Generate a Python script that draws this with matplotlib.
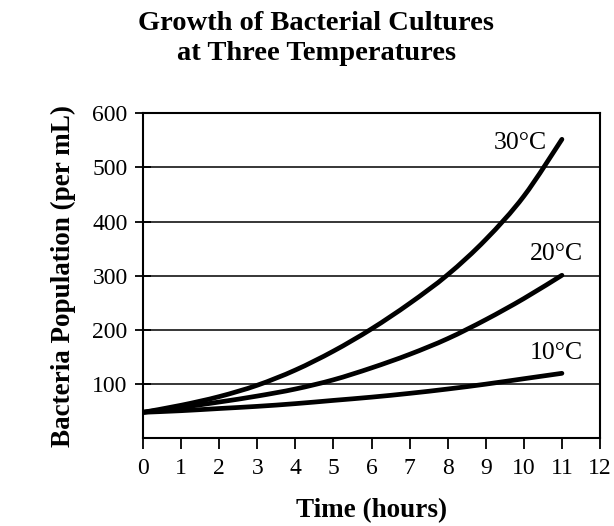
import matplotlib
matplotlib.use("Agg")
import matplotlib.pyplot as plt
from matplotlib.path import Path
from matplotlib.patches import PathPatch

plt.rcParams['font.family'] = ['Liberation Serif', 'DejaVu Serif']

# values
hours = [0, 1, 2, 3, 4, 5, 6, 7, 8, 9, 10, 11]
pop_30 = [48, 61, 77, 98, 126, 161, 202, 249, 302, 367, 447, 552]
pop_20 = [48, 57, 67, 78, 91, 108, 130, 155, 184, 219, 258, 301]
pop_10 = [48, 51, 55, 59, 64, 70, 76, 83, 91, 100, 110, 120]

series = [("30°C", pop_30, 10.6, 545),
          ("20°C", pop_20, 11.55, 340),
          ("10°C", pop_10, 11.55, 158)]


def smooth_path(xs, ys):
    # curve through the points, drawn as cubic bezier pieces (catmull-rom)
    pts = list(zip(xs, ys))
    n = len(pts)
    verts = [pts[0]]
    codes = [Path.MOVETO]
    for i in range(n - 1):
        p0 = pts[max(i - 1, 0)]
        p1 = pts[i]
        p2 = pts[i + 1]
        p3 = pts[min(i + 2, n - 1)]
        c1 = (p1[0] + (p2[0] - p0[0]) / 6, p1[1] + (p2[1] - p0[1]) / 6)
        c2 = (p2[0] - (p3[0] - p1[0]) / 6, p2[1] - (p3[1] - p1[1]) / 6)
        verts += [c1, c2, p2]
        codes += [Path.CURVE4] * 3
    return Path(verts, codes)


fig = plt.figure(figsize=(6.14, 5.26), dpi=100)
ax = fig.add_axes([0.2329, 0.1667, 0.7443, 0.6179])

ax.set_xlim(0, 12)
ax.set_ylim(0, 600)
ax.set_xticks(range(0, 13))
ax.set_yticks([100, 200, 300, 400, 500, 600])
ax.yaxis.grid(True, color="black", linewidth=1.1)
ax.set_axisbelow(True)

for label, vals, lx, ly in series:
    patch = PathPatch(smooth_path(hours, vals), facecolor="none",
                      edgecolor="black", linewidth=3.4,
                      capstyle="round", joinstyle="round")
    ax.add_patch(patch)
    ax.text(lx, ly, label, ha="right", va="center", fontsize=18.5)

for s in ax.spines.values():
    s.set_linewidth(1.5)

ax.tick_params(axis="x", direction="out", length=8, width=1.3,
               labelsize=17, pad=6)
ax.tick_params(axis="y", direction="inout", length=11, width=1.3,
               labelsize=17, pad=5.5)

ax.set_xlabel("Time (hours)", fontsize=19.5, fontweight="bold", labelpad=14)
ax.set_ylabel("Bacteria Population (per mL)", fontsize=19.5,
              fontweight="bold", labelpad=12)

fig.suptitle("Growth of Bacterial Cultures\nat Three Temperatures",
             x=0.515, y=0.979, va="top", fontsize=20.5, fontweight="bold",
             linespacing=1.25)

fig.savefig("out.png", dpi=100)
